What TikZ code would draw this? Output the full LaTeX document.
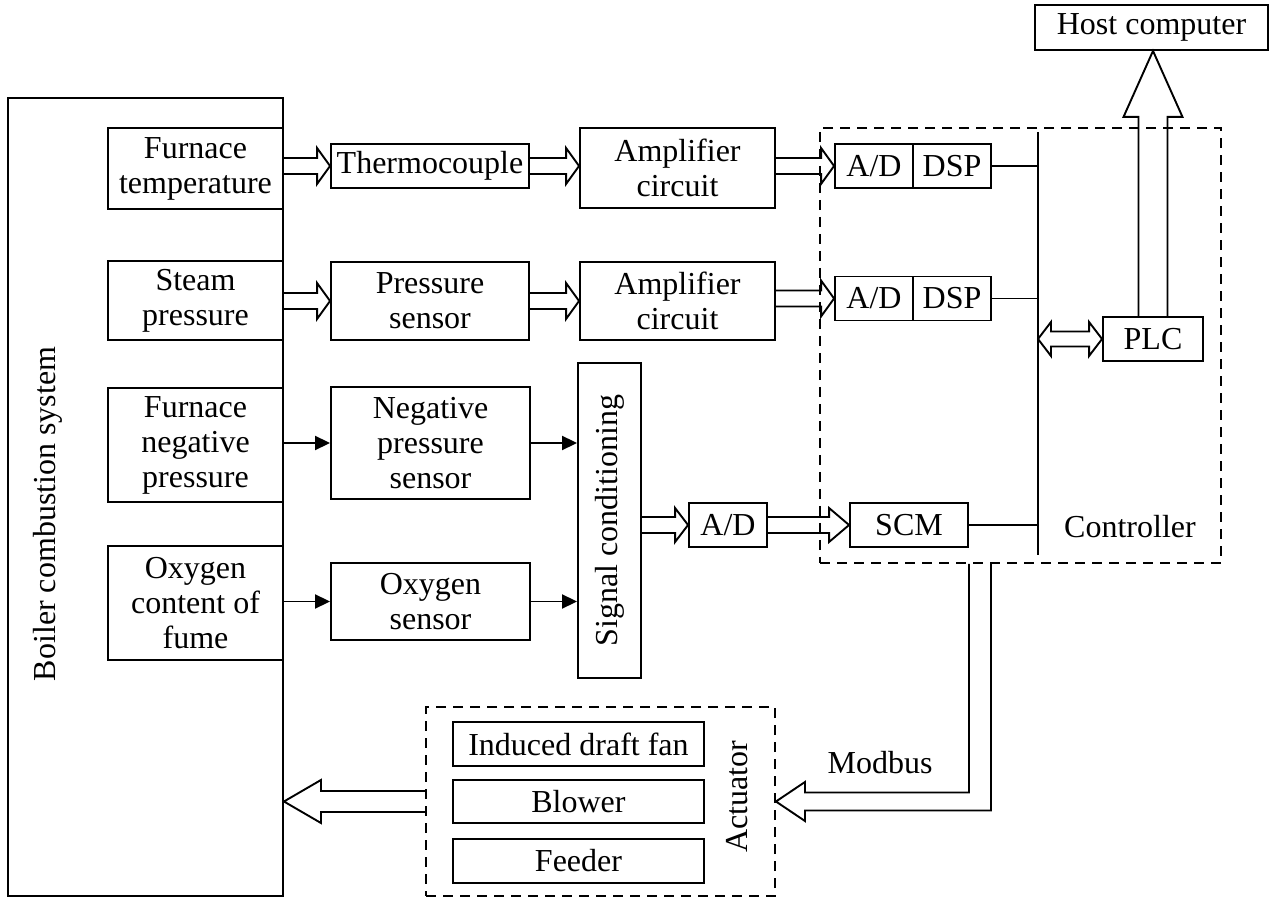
\documentclass[tikz,border=0pt]{standalone}
\usepackage{fontspec}
\setmainfont{Liberation Serif}
\usetikzlibrary{arrows.meta, calc}

% wide open arrow: from, to, half shaft, half head, head length
\newcommand\hollowarrow[5]{%
  \draw let \p1 = (#1), \p2 = (#2), \n1 = {sign(\x2 - \x1)} in
    (\x1, \y1 + #3) -- (\x2 - \n1*#5, \y1 + #3) -- (\x2 - \n1*#5, \y1 + #4) -- (\x2, \y1)
    -- (\x2 - \n1*#5, \y1 - #4) -- (\x2 - \n1*#5, \y1 - #3) -- (\x1, \y1 - #3);}

\begin{document}
\begin{tikzpicture}[x = 0.5pt, y = -0.5pt, line width = 0.95pt,
    font = \fontsize{16}{17.5}\selectfont,
    box/.style = {draw, align = center, inner sep = 1pt},
    dashedbox/.style = {draw, dash pattern = on 5pt off 3.5pt},
    sized/.style 2 args = {minimum width = #1*0.5pt, minimum height = #2*0.5pt},
    solid arrow/.style = {-{Triangle[length = 7.5pt, width = 7pt]}}]
    \useasboundingbox (0, 0) rectangle (1269, 897);

    % boiler side
    \node [box, sized = {275}{798}] (boiler) at (145.5, 497) {};
    \node [rotate = 90] (boilertext) at (48, 514) {Boiler combustion system};
    \node [box, sized = {175}{81}] (ft) at (195.5, 168.5) {Furnace\\temperature};
    \node [box, sized = {175}{79}] (sp) at (195.5, 300.5) {Steam\\pressure};
    \node [box, sized = {175}{114}] (fnp) at (195.5, 445) {Furnace\\negative\\pressure};
    \node [box, sized = {175}{114}] (ocf) at (195.5, 603) {Oxygen\\content of\\fume};

    % sensors
    \node [box, sized = {198}{44}] (tc) at (430, 166) {Thermocouple};
    \node [box, sized = {195}{80}] (amp1) at (677.5, 168) {Amplifier\\circuit};
    \node [box, sized = {198}{78}] (ps) at (430, 301) {Pressure\\sensor};
    \node [box, sized = {195}{78}] (amp2) at (677.5, 301) {Amplifier\\circuit};
    \node [box, sized = {199}{112}] (nps) at (430.5, 443) {Negative\\pressure\\sensor};
    \node [box, sized = {199}{77}] (os) at (430.5, 601.5) {Oxygen\\sensor};
    \node [box, sized = {63}{315}, label = {[rotate = 90]center:Signal conditioning}] (sc) at (609.5, 520.5) {};
    \node [box, sized = {78}{44}] (ad3) at (728, 525) {A/D};

    % controller
    \node [dashedbox, sized = {401}{435}] (controller) at (1020.5, 345.5) {};
    \node (controllertext) at (1130, 527) {Controller};
    \node [box, sized = {78}{44}] (ad1) at (874, 166) {A/D};
    \node [box, sized = {78}{44}] (dsp1) at (952, 166) {DSP};
    \node [box, sized = {78}{44}] (ad2) at (874, 298.5) {A/D};
    \node [box, sized = {78}{44}] (dsp2) at (952, 298.5) {DSP};
    \node [box, sized = {118}{44}] (scm) at (909, 525) {SCM};
    \node [box, sized = {100}{44}] (plc) at (1153, 339) {PLC};
    \node [box, sized = {233}{45}] (host) at (1151.5, 27.5) {Host computer};
    \coordinate (bustop) at (1038, 132);
    \coordinate (busbot) at (1038, 555);

    % actuator
    \node [dashedbox, sized = {349}{189}] (actuator) at (600.5, 801.5) {};
    \node [box, sized = {251}{44}] (fan) at (578.5, 744) {Induced draft fan};
    \node [box, sized = {251}{43}] (blower) at (578.5, 801.5) {Blower};
    \node [box, sized = {251}{44}] (feeder) at (578.5, 861) {Feeder};
    \node [rotate = 90] (actuatortext) at (737, 797) {Actuator};
    \node (modbustext) at (880, 763) {Modbus};

    % signal paths
    \hollowarrow{ft.east |- tc.west}{tc.west}{4pt}{9pt}{6.5pt}
    \hollowarrow{tc.east}{amp1.west |- tc.east}{4pt}{9pt}{6.5pt}
    \hollowarrow{amp1.east |- ad1.west}{ad1.west}{4pt}{9pt}{6.5pt}
    \hollowarrow{sp.east |- ps.west}{ps.west}{4pt}{9pt}{6.5pt}
    \hollowarrow{ps.east}{amp2.west}{4pt}{9pt}{6.5pt}
    \hollowarrow{amp2.east |- ad2.west}{ad2.west}{4pt}{9pt}{6.5pt}
    \draw [solid arrow] (fnp.east |- nps.west) -- (nps.west);
    \draw [solid arrow] (nps.east) -- (nps.east -| sc.west);
    \draw [solid arrow] (ocf.east |- os.west) -- (os.west);
    \draw [solid arrow] (os.east) -- (os.east -| sc.west);
    \hollowarrow{sc.east |- ad3.west}{ad3.west}{4pt}{8.5pt}{6.5pt}
    \hollowarrow{ad3.east}{scm.west}{4pt}{8.5pt}{10pt}

    % bus
    \draw [line width = 1.3pt] (bustop) -- (busbot);
    \draw (dsp1.east) -- (dsp1.east -| bustop)
          (dsp2.east) -- (dsp2.east -| bustop)
          (scm.east) -- (scm.east -| bustop);
    \draw let \p1 = (plc.west), \p2 = (plc.west -| bustop) in
      (\x2, \y1) -- (\x2 + 6.5pt, \y1 + 8.5pt) -- (\x2 + 6.5pt, \y1 + 3.75pt)
      -- (\x1 - 6.5pt, \y1 + 3.75pt) -- (\x1 - 6.5pt, \y1 + 8.5pt) -- (\x1, \y1)
      -- (\x1 - 6.5pt, \y1 - 8.5pt) -- (\x1 - 6.5pt, \y1 - 3.75pt)
      -- (\x2 + 6.5pt, \y1 - 3.75pt) -- (\x2 + 6.5pt, \y1 - 8.5pt) -- cycle;
    \draw let \p1 = (plc.north), \p2 = (host.south) in
      (\x1 - 7.25pt, \y1) -- (\x1 - 7.25pt, \y2 - 33pt) -- (\x1 - 14.75pt, \y2 - 33pt)
      -- (\x1, \y2) -- (\x1 + 14.75pt, \y2 - 33pt) -- (\x1 + 7.25pt, \y2 - 33pt)
      -- (\x1 + 7.25pt, \y1);

    % modbus and output
    \draw let \p1 = (controller.south -| scm.east), \p2 = (actuator.east) in
      (\x1, \y1) -- (\x1, \y2 + 4.5pt) -- (\x2 + 14.5pt, \y2 + 4.5pt)
      -- (\x2 + 14.5pt, \y2 + 9.75pt) -- (\x2, \y2) -- (\x2 + 14.5pt, \y2 - 9.75pt)
      -- (\x2 + 14.5pt, \y2 - 4.5pt) -- (\x1 + 11pt, \y2 - 4.5pt) -- (\x1 + 11pt, \y1);
    \hollowarrow{actuator.west}{boiler.east |- actuator.west}{5.25pt}{10.75pt}{18.5pt}
\end{tikzpicture}
\end{document}
